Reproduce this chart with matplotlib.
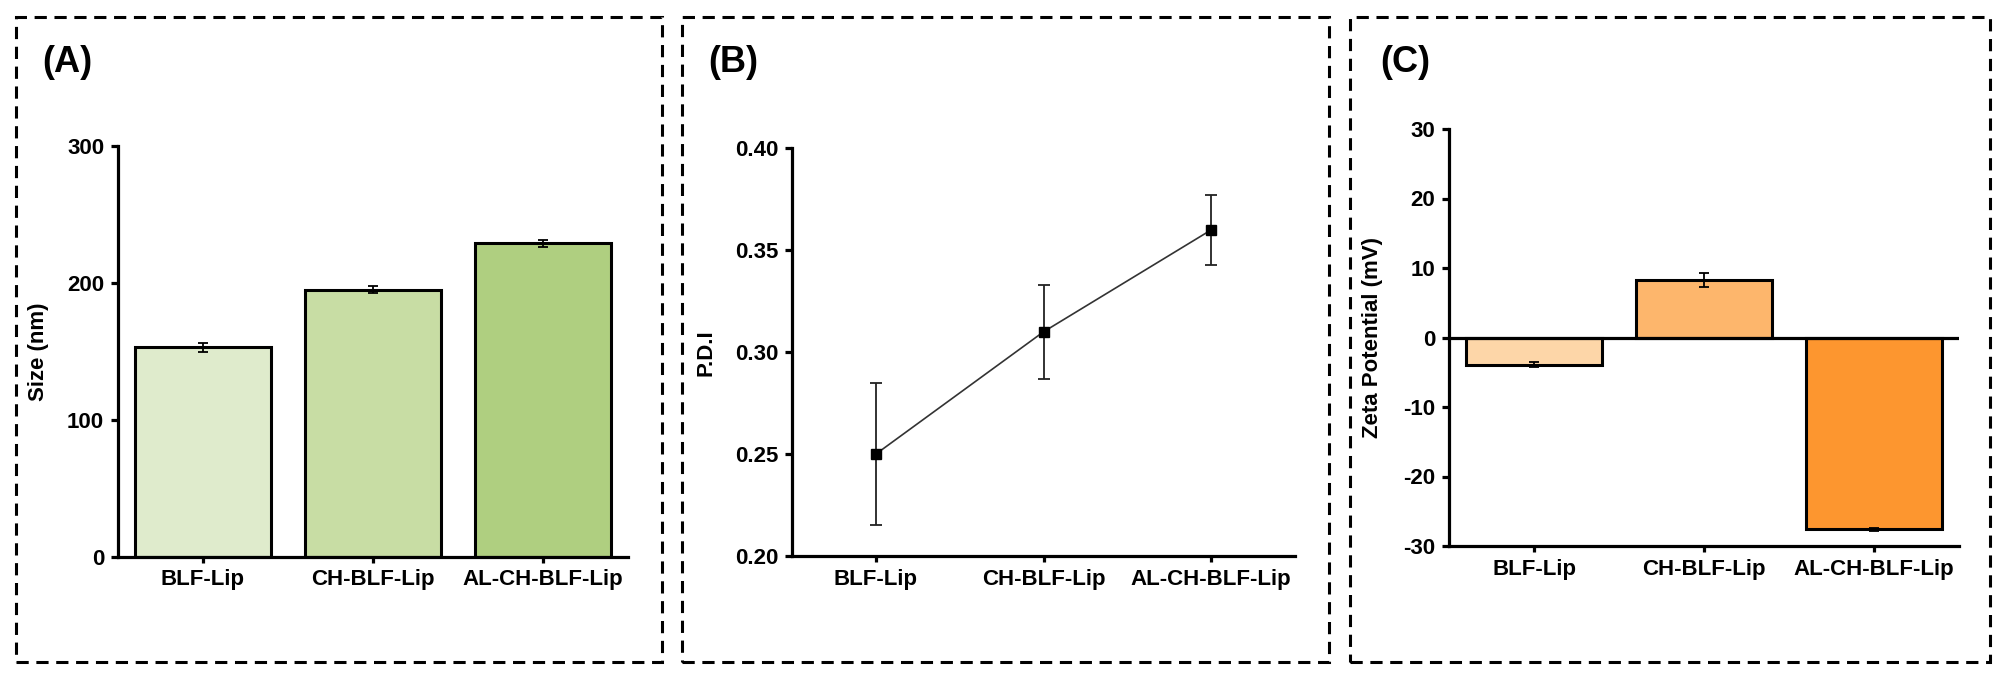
import matplotlib
matplotlib.use("Agg")
import matplotlib.pyplot as plt
from matplotlib.patches import Rectangle

plt.rcParams["font.family"] = ["Liberation Sans", "DejaVu Sans"]
plt.rcParams["font.weight"] = "bold"
plt.rcParams["axes.unicode_minus"] = False

# data
samples = ["BLF-Lip", "CH-BLF-Lip", "AL-CH-BLF-Lip"]

size_nm = [153, 195, 229]
size_err = [3.5, 2.5, 2.7]

pdi = [0.25, 0.31, 0.36]
pdi_err = [0.035, 0.023, 0.017]

zeta_mv = [-3.9, 8.3, -27.6]
zeta_err = [0.4, 1.0, 0.2]

green_colors = ["#DFEBCC", "#C8DDA4", "#AFCF80"]
orange_colors = ["#FDD6A8", "#FDB66C", "#FD962F"]

SPINE_W = 2.3
TICK_FS = 16
LABEL_FS = 16


def style_axis(ax):
    ax.spines["top"].set_visible(False)
    ax.spines["right"].set_visible(False)
    ax.spines["left"].set_linewidth(SPINE_W)
    ax.spines["bottom"].set_linewidth(SPINE_W)
    ax.tick_params(axis="y", direction="out", length=5, width=SPINE_W,
                   labelsize=TICK_FS, pad=5)
    ax.tick_params(axis="x", direction="out", length=4, width=SPINE_W,
                   labelsize=TICK_FS, pad=5)
    for lbl in ax.get_xticklabels() + ax.get_yticklabels():
        lbl.set_fontweight("bold")


fig = plt.figure(figsize=(20.13, 6.75), dpi=100)

# dashed frames around the three panels
for x0, x1 in [(16, 662), (682, 1329), (1350, 1990)]:
    fig.patches.append(Rectangle((x0 / 2013, 13 / 675), (x1 - x0) / 2013, 645 / 675,
                                 transform=fig.transFigure, fill=False,
                                 edgecolor="black", linewidth=2.2,
                                 linestyle=(0, (4, 2.5)), clip_on=False))

x = list(range(len(samples)))

# (A) size
ax_a = fig.add_axes([118 / 2013, 1 - 557 / 675, 510 / 2013, 411 / 675])
ax_a.bar(x, size_nm, width=0.8, color=green_colors, edgecolor="black", linewidth=2.2,
         zorder=2)
ax_a.errorbar(x, size_nm, yerr=size_err, fmt="none", ecolor="black", elinewidth=1.3,
              capsize=3.5, capthick=1.3, zorder=3)
ax_a.set_xlim(-0.5, 2.5)
ax_a.set_ylim(0, 300)
ax_a.set_yticks([0, 100, 200, 300])
ax_a.set_xticks(x)
ax_a.set_xticklabels(samples)
ax_a.set_ylabel("Size (nm)", fontsize=LABEL_FS, fontweight="bold")
ax_a.yaxis.set_label_coords(-0.135, 0.5)
style_axis(ax_a)

# (B) PDI
ax_b = fig.add_axes([792 / 2013, 1 - 556 / 675, 503 / 2013, 407.6 / 675])
ax_b.plot(x, pdi, color="#333333", linewidth=1.2, zorder=2)
ax_b.errorbar(x, pdi, yerr=pdi_err, fmt="s", color="black", markersize=7,
              ecolor="#222222", elinewidth=1.3, capsize=4, capthick=1.3, zorder=3)
ax_b.set_xlim(-0.5, 2.5)
ax_b.set_ylim(0.20, 0.40)
ax_b.set_yticks([0.20, 0.25, 0.30, 0.35, 0.40])
ax_b.set_yticklabels([f"{v:.2f}" for v in [0.20, 0.25, 0.30, 0.35, 0.40]])
ax_b.set_xticks(x)
ax_b.set_xticklabels(samples)
ax_b.set_ylabel("P.D.I", fontsize=LABEL_FS, fontweight="bold")
ax_b.yaxis.set_label_coords(-0.151, 0.5)
style_axis(ax_b)

# (C) zeta potential
ax_c = fig.add_axes([1449 / 2013, 1 - 546 / 675, 510 / 2013, 417 / 675])
ax_c.bar(x, zeta_mv, width=0.8, color=orange_colors, edgecolor="black", linewidth=2.2,
         zorder=2)
ax_c.errorbar(x, zeta_mv, yerr=zeta_err, fmt="none", ecolor="black", elinewidth=1.3,
              capsize=3.5, capthick=1.3, zorder=3)
ax_c.axhline(0, color="black", linewidth=SPINE_W, zorder=4)
ax_c.set_xlim(-0.5, 2.5)
ax_c.set_ylim(-30, 30)
ax_c.set_yticks([-30, -20, -10, 0, 10, 20, 30])
ax_c.set_xticks(x)
ax_c.set_xticklabels(samples)
ax_c.set_ylabel("Zeta Potential (mV)", fontsize=LABEL_FS, fontweight="bold")
ax_c.yaxis.set_label_coords(-0.129, 0.5)
style_axis(ax_c)

# panel letters
for px, letter in [(42, "(A)"), (708, "(B)"), (1380, "(C)")]:
    fig.text(px / 2013, 1 - 63 / 675, letter, fontsize=26, fontweight="bold",
             ha="left", va="center")

fig.savefig("out.png", dpi=100)
